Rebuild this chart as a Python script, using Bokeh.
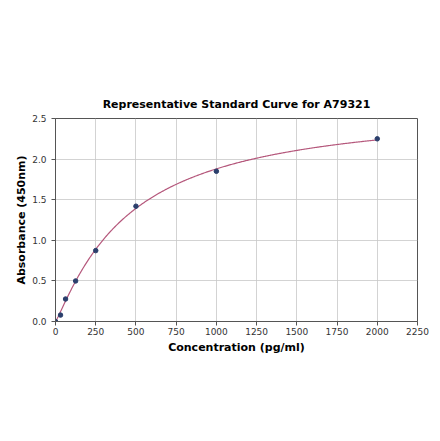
import numpy as np
from bokeh.plotting import figure
from bokeh.models import ColumnDataSource, SingleIntervalTicker, NumeralTickFormatter
from bokeh.embed import file_html
from bokeh.resources import INLINE

# standards
conc = [0, 31.25, 62.5, 125, 250, 500, 1000, 2000]
absorbance = [0.0, 0.079, 0.277, 0.499, 0.873, 1.42, 1.85, 2.25]

x_ticks = [0, 250, 500, 750, 1000, 1250, 1500, 1750, 2000, 2250]
y_ticks = [0.0, 0.5, 1.0, 1.5, 2.0, 2.5]

# fit y = d / (1 + (c/x)^b) to the standards (grid over b, c; d by least squares)
xs = np.array(conc[1:], dtype=float)
ys = np.array(absorbance[1:], dtype=float)
best = None
for b in np.linspace(0.8, 1.6, 81):
    for c in np.linspace(200, 1500, 261):
        f = 1.0 / (1.0 + (c / xs) ** b)
        d = (f @ ys) / (f @ f)
        err = np.sum((d * f - ys) ** 2)
        if best is None or err < best[0]:
            best = (err, b, c, d)
_, fb, fc, fd = best
curve_x = np.linspace(0.5, 2000, 400)
curve_y = fd / (1.0 + (fc / curve_x) ** fb)
curve_x = np.concatenate([[0], curve_x])
curve_y = np.concatenate([[0], curve_y])

p = figure(width=432, height=433, output_backend="svg", toolbar_location=None,
           x_range=(0, 2250), y_range=(0, 2.5),
           min_border_left=55, min_border_right=15, min_border_top=118, min_border_bottom=112,
           title="Representative Standard Curve for A79321")

p.title.text_font = "DejaVu Sans"
p.title.text_font_size = "11px"
p.title.text_font_style = "bold"
p.title.align = "center"
p.title.text_color = "#000000"
p.title.standoff = 15

p.outline_line_color = "#555555"
p.outline_line_width = 1

p.grid.grid_line_color = "#c8c8c8"
p.grid.grid_line_width = 0.8

p.line(curve_x, curve_y, line_color="#b5587c", line_width=1.2)
src = ColumnDataSource(dict(x=conc, y=absorbance))
p.scatter("x", "y", source=src, size=4.5, fill_color="#2b3f6c", line_color="#2b3f6c")

p.xaxis.ticker = SingleIntervalTicker(interval=250)
p.yaxis.ticker = SingleIntervalTicker(interval=0.5)
p.yaxis.formatter = NumeralTickFormatter(format="0.0")

for ax in (p.xaxis[0], p.yaxis[0]):
    ax.axis_line_color = "#555555"
    ax.major_tick_line_color = "#555555"
    ax.major_tick_out = 4
    ax.major_tick_in = 0
    ax.minor_tick_line_color = None
    ax.major_label_text_font = "DejaVu Sans"
    ax.major_label_text_font_size = "9px"
    ax.major_label_text_color = "#333333"
    ax.axis_label_text_font = "DejaVu Sans"
    ax.axis_label_text_font_size = "11px"
    ax.axis_label_text_font_style = "bold"
    ax.axis_label_text_color = "#000000"

p.xaxis.major_label_standoff = 2
p.yaxis.major_label_standoff = 5
p.xaxis.axis_label = "Concentration (pg/ml)"
p.yaxis.axis_label = "Absorbance (450nm)"
p.xaxis.axis_label_standoff = 3
p.yaxis.axis_label_standoff = 1

open("out.html", "w").write(file_html(p, INLINE))
